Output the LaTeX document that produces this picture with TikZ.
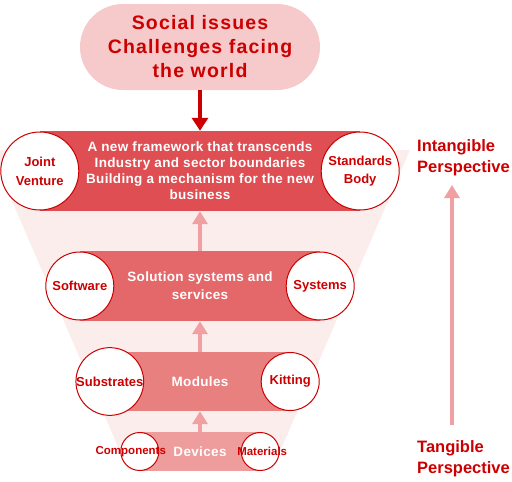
\documentclass[tikz,border=0pt]{standalone}
\usepackage{fontspec}
\setmainfont{Liberation Sans}
\usetikzlibrary{arrows.meta, positioning, calc}
\definecolor{myred}{RGB}{204,0,0}
\definecolor{issuepink}{RGB}{246,201,203}
\definecolor{funnelpink}{RGB}{252,237,237}
\definecolor{tierA}{RGB}{222,78,82}
\definecolor{tierB}{RGB}{228,104,106}
\definecolor{tierC}{RGB}{233,128,128}
\definecolor{tierD}{RGB}{238,156,156}
\definecolor{arrowpink}{RGB}{240,160,162}
\tikzset{
  issue/.style={rectangle, fill=issuepink, rounded corners=43pt,
    minimum width=240pt, minimum height=86pt, align=center, inner sep=0pt,
    text=myred, font=\bfseries\fontsize{19.5}{24}\selectfont\addfontfeature{LetterSpace=6}},
  tier/.style={rectangle, inner sep=0pt, align=center, text=white,
    font=\bfseries\fontsize{13.5}{16}\selectfont\addfontfeature{LetterSpace=2.5}},
  ring/.style={circle, draw=myred, fill=white, line width=1pt,
    inner sep=0pt, align=center, text=myred,
    font=\bfseries\fontsize{13}{19}\selectfont},
  ringtext/.style={inner sep=0pt, text=myred,
    font=\bfseries\fontsize{11.5}{14}\selectfont},
  persp/.style={inner sep=0pt, align=left, text=myred,
    font=\bfseries\fontsize{16.5}{21}\selectfont},
  downarrow/.style={-{Triangle[length=13pt, width=16pt]}, line width=4.5pt, color=myred},
  uparrow/.style={-{Triangle[length=13pt, width=15pt]}, line width=4pt, color=arrowpink}
}

\begin{document}
\begin{tikzpicture}[x=1pt, y=-1pt]
  \useasboundingbox (0,0) rectangle (512,482);
  % Funnel behind the tiers
  \fill[funnelpink] (-10,150) -- (410,150) -- (272,470) -- (128,470) -- cycle;
  % Social issues
  \node[issue] (issues) at (200,47) {Social issues\\Challenges facing\\the world};
  % Tiers
  \node[tier, fill=tierA, minimum width=320pt, minimum height=80pt] (frame) at (200,171)
    {A new framework that transcends\\Industry and sector boundaries\\Building a mechanism for the new\\business};
  \node[tier, fill=tierB, minimum width=240pt, minimum height=70pt,
    font=\bfseries\fontsize{13.5}{18}\selectfont\addfontfeature{LetterSpace=2.5}] (solution) at (200,286)
    {Solution systems and\\services};
  \node[tier, fill=tierC, minimum width=180pt, minimum height=59pt] (modules) at (200,381.5) {Modules};
  \node[tier, fill=tierD, minimum width=120pt, minimum height=39pt] (devices) at (200,451.5) {Devices};
  % Rings at the ends of each tier
  \node[ring, minimum size=78pt] (venture) at (frame.west) {Joint\\Venture};
  \node[ring, minimum size=78pt, font=\bfseries\fontsize{13}{18}\selectfont] (standards) at (frame.east) {Standards\\Body};
  \node[ring, minimum size=68pt] (software) at (solution.west) {Software};
  \node[ring, minimum size=68pt] (systems) at (solution.east) {Systems};
  \node[ring, minimum size=58pt] (substrates) at (modules.west) {Substrates};
  \node[ring, minimum size=58pt] (kitting) at (modules.east) {Kitting};
  \node[ring, minimum size=38pt] (components) at (devices.west) {};
  \node[ring, minimum size=38pt] (materials) at (devices.east) {};
  \node[ringtext] (components-txt) at ($(components)+(-9,0)$) {Components};
  \node[ringtext] (materials-txt) at ($(materials)+(2,0)$) {Materials};
  % Arrows between the levels
  \draw[downarrow] (issues.south) -- (frame.north);
  \draw[uparrow] (solution.north) -- (frame.south);
  \draw[uparrow] (modules.north) -- (solution.south);
  \draw[uparrow] (devices.north) -- (modules.south);
  % Perspective scale
  \node[persp, anchor=west] (intangible) at (417,158) {Intangible\\Perspective};
  \node[persp, anchor=west] (tangible) at (417,459) {Tangible\\Perspective};
  \coordinate (rise-lo) at (452,425);
  \coordinate (rise-hi) at (452,185);
  \draw[uparrow] (rise-lo) -- (rise-hi);
\end{tikzpicture}
\end{document}
